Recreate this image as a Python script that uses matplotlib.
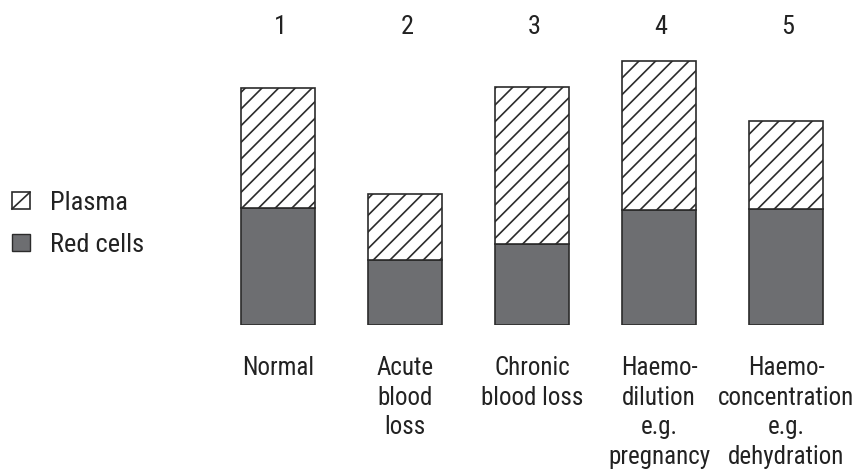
import matplotlib
matplotlib.use('Agg')
import matplotlib.pyplot as plt
from matplotlib.patches import Patch, Rectangle
from matplotlib.lines import Line2D
from matplotlib.legend_handler import HandlerBase

# Data (heights, arbitrary units)
numbers = ['1', '2', '3', '4', '5']
categories = ['Normal', 'Acute\nblood\nloss', 'Chronic\nblood loss',
              'Haemo-\ndilution\ne.g.\npregnancy',
              'Haemo-\nconcentration\ne.g.\ndehydration']
red_cells = [117, 65, 81, 115, 116]
plasma = [120, 66, 157, 149, 88]

plt.rcParams['font.family'] = ['Roboto Condensed', 'Archivo Narrow',
                               'PT Sans Narrow', 'DejaVu Sans']
plt.rcParams['hatch.linewidth'] = 1.2

red_col = '#6d6e71'
edge_col = '#2b2b2b'
txt_col = '#222222'


class HatchHandler(HandlerBase):
    # legend box with a single diagonal stroke, like the printed key
    def create_artists(self, legend, orig_handle, xdescent, ydescent,
                       width, height, fontsize, trans):
        rect = Rectangle((-xdescent, -ydescent), width, height,
                         facecolor='white', edgecolor=edge_col, lw=1.2,
                         transform=trans)
        diag = Line2D([-xdescent, -xdescent + width],
                      [-ydescent, -ydescent + height],
                      color=edge_col, lw=1.2, transform=trans)
        return [rect, diag]


fig = plt.figure(figsize=(8.61, 4.76), dpi=100)
ax = fig.add_axes([214.8 / 861, 151 / 476, (849.5 - 214.8) / 861, 325 / 476])

x = list(range(len(categories)))
ax.bar(x, red_cells, width=0.58, color=red_col, edgecolor=edge_col, linewidth=1.2)
ax.bar(x, plasma, width=0.58, bottom=red_cells, color='white',
       edgecolor=edge_col, linewidth=1.2, hatch='//')

ax.set_xlim(-0.5, 4.5)
ax.set_ylim(0, 325)
ax.axis('off')

for i, (num, cat) in enumerate(zip(numbers, categories)):
    ax.text(i + 0.015, 298.5, num, ha='center', va='center', fontsize=19, color=txt_col)
    ax.text(i, -31, cat, ha='center', va='top', fontsize=18, linespacing=1.3,
            color=txt_col, clip_on=False)

plasma_h = Patch(facecolor='white', edgecolor=edge_col, label='Plasma')
red_h = Patch(facecolor=red_col, edgecolor=edge_col, label='Red cells')
fig.legend(handles=[plasma_h, red_h], loc='center left',
           bbox_to_anchor=(12 / 861, 0.530), frameon=False, fontsize=19,
           handlelength=0.68, handleheight=0.6, labelspacing=0.67,
           handletextpad=0.75, borderpad=0, borderaxespad=0,
           labelcolor=txt_col, handler_map={plasma_h: HatchHandler()})

plt.savefig('out.png', dpi=100)
